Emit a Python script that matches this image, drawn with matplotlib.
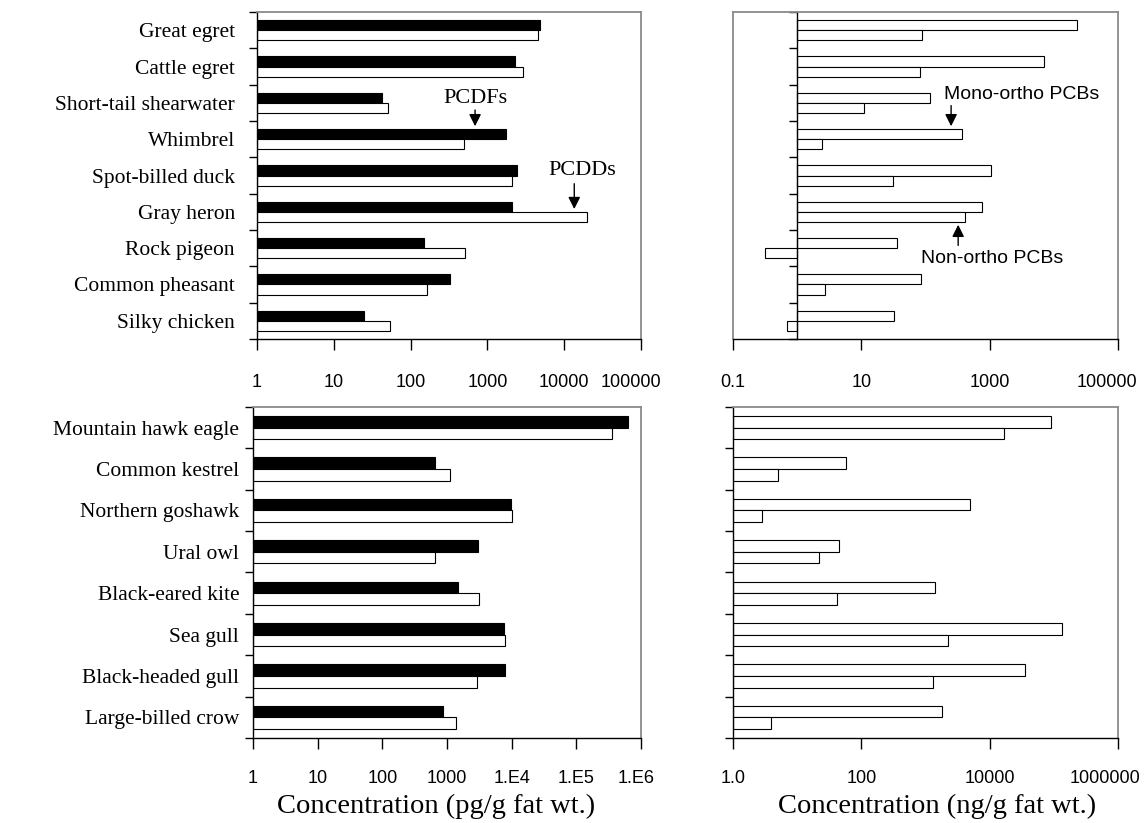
import matplotlib
matplotlib.use('Agg')  # no display in the sandbox
import matplotlib.pyplot as plt
import numpy as np
from matplotlib.ticker import NullLocator
from matplotlib.transforms import ScaledTranslation

SERIF = 'Liberation Serif'
SANS = 'Liberation Sans'
GRAY = '#8a8a8a'
H = 0.28  # bar thickness (category units)

# --- data ---
top_species = ["Great egret", "Cattle egret", "Short-tail shearwater", "Whimbrel",
               "Spot-billed duck", "Gray heron", "Rock pigeon", "Common pheasant",
               "Silky chicken"]
top_pcdfs = [4800, 2300, 42, 1750, 2400, 2100, 150, 330, 25]
top_pcdds = [4600, 2900, 50, 490, 2100, 19500, 510, 165, 54]
top_mono = [23000, 7100, 118, 375, 1030, 750, 36, 85, 32]
top_non = [89, 82, 11, 2.4, 31, 415, 0.31, 2.7, 0.70]

bot_species = ["Mountain hawk eagle", "Common kestrel", "Northern goshawk", "Ural owl",
               "Black-eared kite", "Sea gull", "Black-headed gull", "Large-billed crow"]
bot_pcdfs = [620000, 650, 9700, 3000, 1470, 7600, 7900, 880]
bot_pcdds = [360000, 1100, 10000, 640, 3100, 7800, 2870, 1400]
bot_mono = [91000, 57, 4900, 44, 1390, 132000, 35500, 1800]
bot_non = [16700, 5.0, 2.8, 22, 42, 2220, 1310, 3.9]

tl_ticks = [1, 10, 100, 1000, 1e4, 1e5]
tl_labels = ['1', '10', '100', '1000', '10000', '100000']
tr_ticks = [0.1, 10, 1000, 1e5]
tr_labels = ['0.1', '10', '1000', '100000']
bl_ticks = [1, 10, 100, 1000, 1e4, 1e5, 1e6]
bl_labels = ['1', '10', '100', '1000', '1.E4', '1.E5', '1.E6']
br_ticks = [1, 100, 1e4, 1e6]
br_labels = ['1.0', '100', '10000', '1000000']

ARROW = dict(arrowstyle='-|>', color='black', lw=1, mutation_scale=18)


def draw_pair(ax, upper, lower, upper_color):
    y = np.arange(len(upper))
    ax.barh(y - H / 2, np.array(upper) - 1, left=1, height=H, color=upper_color,
            edgecolor='black', linewidth=0.8)
    ax.barh(y + H / 2, np.array(lower) - 1, left=1, height=H, color='white',
            edgecolor='black', linewidth=0.8)


def setup(ax, names, n, ticks, labels, tick_pad, label_pad=12, last_shift=0):
    ax.set_xscale('log')
    ax.set_xlim(ticks[0], ticks[-1])
    ax.set_ylim(n - 0.5, -0.5)
    ax.set_xticks(ticks, labels, fontfamily=SANS, fontsize=13)
    ax.xaxis.set_minor_locator(NullLocator())
    ax.tick_params(axis='x', direction='out', length=8, width=1, pad=tick_pad)
    # last label sits a little inside, as in the original
    lab = ax.get_xticklabels()[-1]
    lab.set_transform(lab.get_transform() + ScaledTranslation(last_shift / 100, 0, fig.dpi_scale_trans))
    if names:
        ax.set_yticks(np.arange(n), names, fontfamily=SERIF, fontsize=15.5)
    else:
        ax.yaxis.set_major_locator(NullLocator())
    ax.set_yticks(np.arange(n + 1) - 0.5, minor=True)
    ax.tick_params(axis='y', which='major', length=0, pad=label_pad)
    ax.tick_params(axis='y', which='minor', direction='out', length=6, width=1)
    for s in ['top', 'right']:
        ax.spines[s].set_color(GRAY)
        ax.spines[s].set_linewidth(1.3)
    for s in ['left', 'bottom']:
        ax.spines[s].set_color('black')
        ax.spines[s].set_linewidth(1)


fig = plt.figure(figsize=(11.47, 8.23), dpi=100)
ax_tl = fig.add_axes([0.2241, 0.5881, 0.3348, 0.3973])
ax_tr = fig.add_axes([0.6391, 0.5881, 0.3357, 0.3973])
ax_bl = fig.add_axes([0.2206, 0.1033, 0.3383, 0.4022])
ax_br = fig.add_axes([0.6391, 0.1033, 0.3357, 0.4022])

# top left: PCDFs (black) / PCDDs (white)
setup(ax_tl, top_species, len(top_species), tl_ticks, tl_labels, tick_pad=17,
      label_pad=16, last_shift=-10)
draw_pair(ax_tl, top_pcdfs, top_pcdds, 'black')
ax_tl.text(690, 1.87, 'PCDFs', family=SERIF, fontsize=16, ha='center', va='center')
ax_tl.annotate('', xy=(690, 2.72), xytext=(690, 2.12), arrowprops=ARROW)
ax_tl.text(17000, 3.85, 'PCDDs', family=SERIF, fontsize=16, ha='center', va='center')
ax_tl.annotate('', xy=(13500, 5.0), xytext=(13500, 4.15), arrowprops=ARROW)

# top right: mono-ortho (upper) / non-ortho (lower) PCBs
setup(ax_tr, None, len(top_species), tr_ticks, tr_labels, tick_pad=17, last_shift=-11)
ax_tr.spines['left'].set_position(('data', 1))
ax_tr.plot([0, 0], [0, 1], transform=ax_tr.transAxes, color=GRAY, lw=1.3, clip_on=False)
draw_pair(ax_tr, top_mono, top_non, 'white')
ax_tr.text(3090, 1.76, 'Mono-ortho PCBs', family=SANS, fontsize=14, ha='center', va='center')
ax_tr.annotate('', xy=(250, 2.72), xytext=(250, 2.0), arrowprops=ARROW)
ax_tr.text(1090, 6.28, 'Non-ortho PCBs', family=SANS, fontsize=14, ha='center', va='center')
ax_tr.annotate('', xy=(322, 5.28), xytext=(322, 6.0), arrowprops=ARROW)

# bottom left
setup(ax_bl, bot_species, len(bot_species), bl_ticks, bl_labels, tick_pad=15,
      label_pad=10, last_shift=-5)
draw_pair(ax_bl, bot_pcdfs, bot_pcdds, 'black')
ax_bl.set_xlabel('Concentration (pg/g fat wt.)', family=SERIF, fontsize=20.5)
ax_bl.xaxis.set_label_coords(0.472, -0.168)

# bottom right
setup(ax_br, None, len(bot_species), br_ticks, br_labels, tick_pad=15, last_shift=-13)
draw_pair(ax_br, bot_mono, bot_non, 'white')
ax_br.set_xlabel('Concentration (ng/g fat wt.)', family=SERIF, fontsize=20.5)
ax_br.xaxis.set_label_coords(0.530, -0.168)

fig.savefig('out.png', dpi=100)
